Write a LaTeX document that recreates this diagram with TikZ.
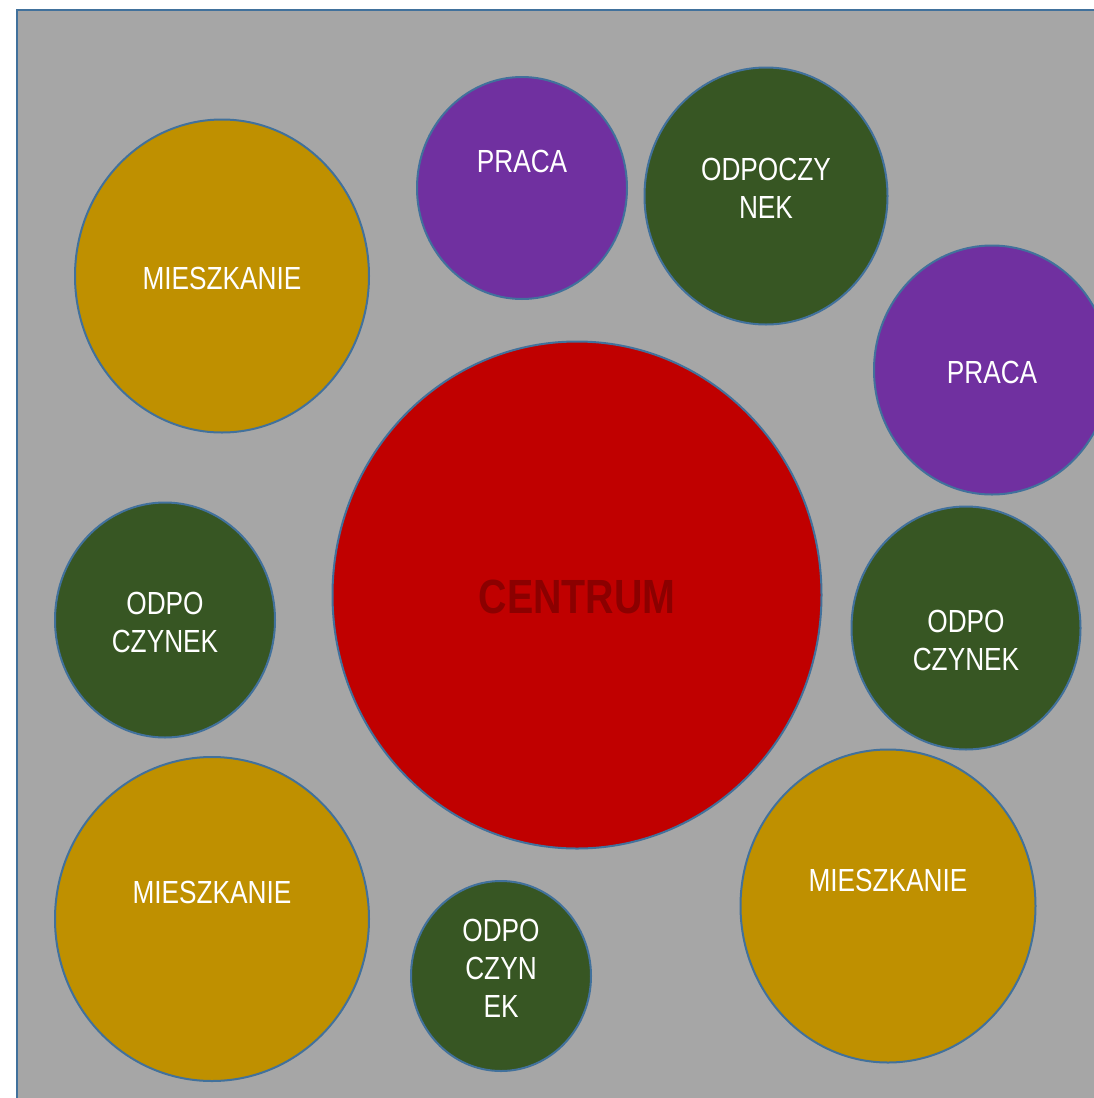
\documentclass[tikz,border=0pt]{standalone}
\usepackage{fontspec}
\newfontfamily\narrowfont{Liberation Sans}[FakeStretch=0.82]
\usetikzlibrary{shapes.geometric}
\definecolor{bggray}{HTML}{A6A6A6}
\definecolor{edgeblue}{HTML}{41719C}
\definecolor{gold}{HTML}{BF9000}
\definecolor{violet2}{HTML}{7030A0}
\definecolor{darkgreen}{HTML}{375623}
\definecolor{centred}{HTML}{C00000}
\definecolor{centtext}{HTML}{8B0000}
\tikzset{
  blob/.style={ellipse, draw=edgeblue, line width=2pt, inner sep=0pt},
  home/.style={blob, fill=gold},
  work/.style={blob, fill=violet2},
  rest/.style={blob, fill=darkgreen},
  core/.style={blob, fill=centred},
  lbl/.style={text=white, align=center, inner sep=0pt, font=\narrowfont\fontsize{32}{38}\selectfont},
  corelbl/.style={text=centtext, inner sep=0pt, font=\narrowfont\bfseries\fontsize{48}{56}\selectfont}
}
\begin{document}
\begin{tikzpicture}[x=1pt,y=-1pt]
\useasboundingbox (0,0) rectangle (1094,1098);
\clip (0,0) rectangle (1094,1098);
\draw[fill=bggray, draw=edgeblue, line width=2.5pt] (17,10) rectangle (1120,1120);
% circles
\node[home, minimum width=294, minimum height=313] (m1) at (222,276) {};
\node[work, minimum width=210, minimum height=222] (p1) at (522,188) {};
\node[rest, minimum width=243, minimum height=257] (o1) at (766,196) {};
\node[work, minimum width=236, minimum height=249] (p2) at (992,370) {};
\node[core, minimum width=489, minimum height=507] (c) at (577,595) {};
\node[rest, minimum width=220, minimum height=235] (o2) at (165,620) {};
\node[rest, minimum width=229, minimum height=243] (o3) at (966,628) {};
\node[home, minimum width=314, minimum height=324] (m2) at (212,919) {};
\node[rest, minimum width=180, minimum height=190] (o4) at (501,976) {};
\node[home, minimum width=295, minimum height=313] (m3) at (888,906) {};
% labels
\node[lbl] (tm1) at (222,278) {MIESZKANIE};
\node[lbl] (tp1) at (522,161) {PRACA};
\node[lbl] (to1) at (766,188) {ODPOCZY\\NEK};
\node[lbl] (tp2) at (992,372) {PRACA};
\node[corelbl] (tc) at (577,597) {CENTRUM};
\node[lbl] (to2) at (165,622) {ODPO\\CZYNEK};
\node[lbl] (to3) at (966,640) {ODPO\\CZYNEK};
\node[lbl] (tm2) at (212,892) {MIESZKANIE};
\node[lbl] (to4) at (501,968) {ODPO\\CZYN\\EK};
\node[lbl] (tm3) at (888,880) {MIESZKANIE};
\end{tikzpicture}
\end{document}
